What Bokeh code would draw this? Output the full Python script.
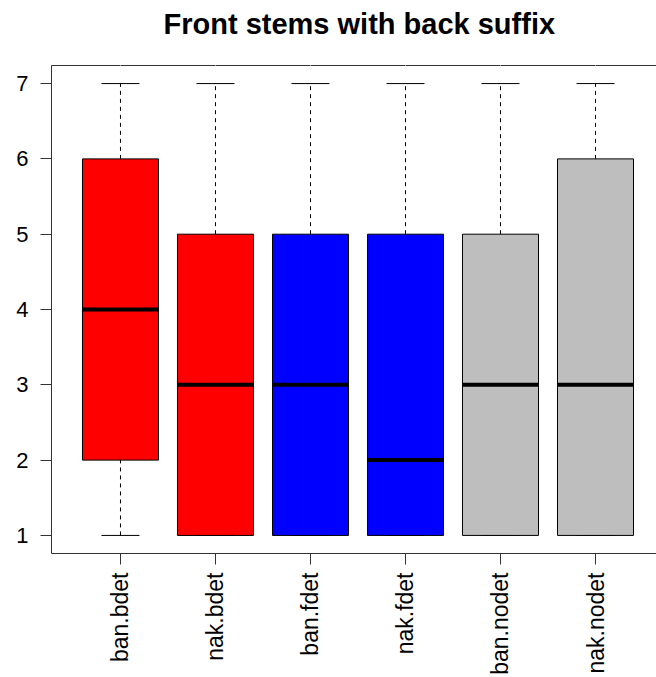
import math
from bokeh.plotting import figure
from bokeh.models import ColumnDataSource, FixedTicker, LinearAxis, Range1d
from bokeh.embed import file_html
from bokeh.resources import INLINE

categories = ["ban.bdet", "nak.bdet", "ban.fdet", "nak.fdet", "ban.nodet", "nak.nodet"]
lower_whisker = [1, 1, 1, 1, 1, 1]
q1 = [2, 1, 1, 1, 1, 1]
median = [4, 3, 3, 2, 3, 3]
q3 = [6, 5, 5, 5, 5, 6]
upper_whisker = [7, 7, 7, 7, 7, 7]
fill_colors = ["#FF0000", "#FF0000", "#0000FF", "#0000FF", "#BEBEBE", "#BEBEBE"]
y_ticks = [1, 2, 3, 4, 5, 6, 7]

box_width = 0.8
staple_width = 0.4
y_lo, y_hi = 0.76, 7.24

xs = list(range(1, len(categories) + 1))
src = ColumnDataSource(dict(
    x=xs,
    lw=lower_whisker, q1=q1, med=median, q3=q3, uw=upper_whisker,
    color=fill_colors,
    bx0=[x - box_width / 2 for x in xs], bx1=[x + box_width / 2 for x in xs],
    sx0=[x - staple_width / 2 for x in xs], sx1=[x + staple_width / 2 for x in xs],
))

FONT = "Liberation Sans"

p = figure(width=656, height=677, output_backend="svg", toolbar_location=None,
           x_range=Range1d(0.274, 6.642), y_range=Range1d(y_lo, y_hi),
           min_border_left=51, min_border_right=0, min_border_top=65, min_border_bottom=123)
p.outline_line_color = None
p.xgrid.visible = False
p.ygrid.visible = False
p.background_fill_color = "white"
p.border_fill_color = "white"

p.title.text = "Front stems with back suffix"
p.title.text_font = FONT
p.title.text_font_style = "bold"
p.title.text_font_size = "29px"
p.title.align = "left"
p.title.offset = 112
p.title.standoff = 10
p.title.text_color = "black"

# whiskers
p.segment(x0="x", y0="q3", x1="x", y1="uw", source=src, line_color="black",
          line_width=1, line_dash="4 4")
p.segment(x0="x", y0="lw", x1="x", y1="q1", source=src, line_color="black",
          line_width=1, line_dash="4 4")
# staples
p.segment(x0="sx0", y0="uw", x1="sx1", y1="uw", source=src, line_color="black", line_width=1)
p.segment(x0="sx0", y0="lw", x1="sx1", y1="lw", source=src, line_color="black", line_width=1)
# boxes
p.vbar(x="x", width=box_width, bottom="q1", top="q3", source=src,
       fill_color="color", line_color="black", line_width=1)
# medians
p.segment(x0="bx0", y0="med", x1="bx1", y1="med", source=src, line_color="black", line_width=4)

# axes
xa = p.xaxis[0]
xa.ticker = FixedTicker(ticks=xs)
xa.major_label_overrides = {x: c for x, c in zip(xs, categories)}
xa.major_label_orientation = math.pi / 2
xa.major_label_text_font_size = "23px"
xa.major_label_standoff = 8
ya = p.yaxis[0]
ya.ticker = FixedTicker(ticks=y_ticks)
ya.major_label_text_font_size = "22px"
ya.major_label_standoff = 12
for ax in (xa, ya):
    ax.minor_tick_line_color = None
    ax.major_tick_in = 0
    ax.major_tick_out = 11
    ax.major_tick_line_color = "#333333"
    ax.axis_line_color = "#333333"
    ax.major_label_text_font = FONT
    ax.major_label_text_color = "black"

# top frame edge: axis line only; white (invisible) ticks reserve space under the title
top = LinearAxis(ticker=FixedTicker(ticks=xs),
                 major_tick_line_color="white", minor_tick_line_color=None,
                 major_tick_in=0, major_tick_out=21,
                 major_label_text_color=None,
                 axis_line_color="#333333", major_label_standoff=0)
p.add_layout(top, "above")

open("out.html", "w").write(file_html(p, INLINE))
